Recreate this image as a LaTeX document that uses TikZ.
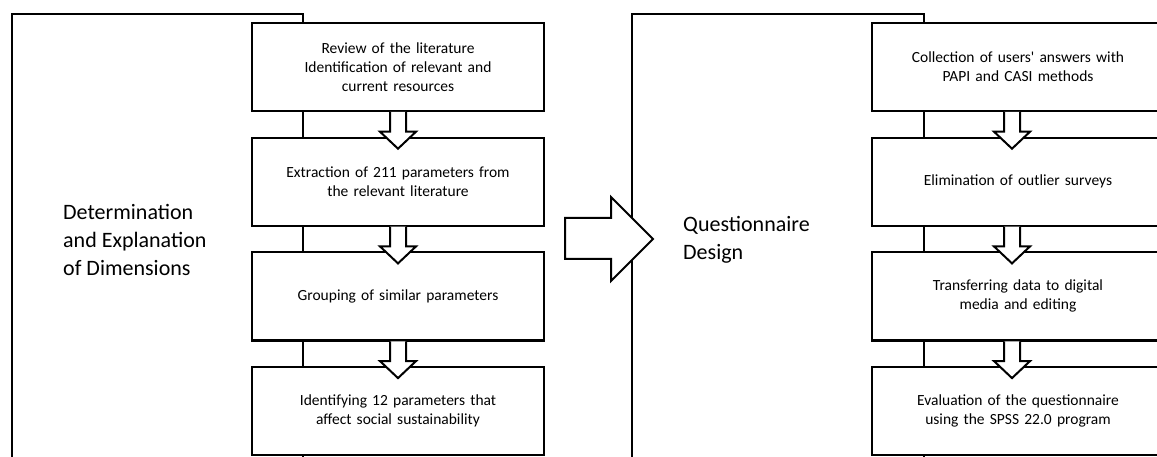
\documentclass[tikz,border=0pt]{standalone}
\usepackage{fontspec}
\setmainfont{Carlito}
\usetikzlibrary{positioning,calc}

\tikzset{
  stepbox/.style={draw,fill=white,line width=2.2pt,outer sep=0pt,inner sep=0pt,
    minimum width=292pt,minimum height=88pt,text width=280pt,align=center,
    font=\fontsize{15.5}{19}\selectfont},
  framebox/.style={draw,line width=1.8pt,outer sep=0pt,anchor=north west},
  bigtext/.style={align=left,anchor=west,inner sep=0pt,font=\fontsize{22}{28}\selectfont},
  hollow/.style={draw,fill=white,line width=2pt,line join=miter},
}

% hollow arrow from one step to the next (#3 = sideways offset)
\newcommand{\hollowdown}[3]{%
  \draw[hollow] ($(#1.south)+(#3-8,1)$) -- ($(#2.north)+(#3-8,-6)$) -- ++(-10,0)
    -- ($(#2.north)+(#3,11)$) -- ($(#2.north)+(#3+18,-6)$) -- ++(-10,0)
    -- ($(#1.south)+(#3+8,1)$);}

\begin{document}
\begin{tikzpicture}[x=1pt,y=-1pt]
\useasboundingbox (0,0) rectangle (1157,457);
\clip (0,0) rectangle (1157,457);

% outer frames
\node[framebox,minimum width=291pt,minimum height=480pt] (lframe) at (12,14) {};
\node[framebox,minimum width=292pt,minimum height=480pt] (rframe) at (632,14) {};

\node[bigtext] (ltitle) at (63,240) {Determination\\and Explanation\\of Dimensions};
\node[bigtext] (rtitle) at (683,240) {Questionnaire\\Design};

% left column
\node[stepbox] (l1) at (398,67) {Review of the literature\\Identification of relevant and\\current resources};
\node[stepbox,below=26.7pt of l1] (l2) {Extraction of 211 parameters from\\the relevant literature};
\node[stepbox,below=26.7pt of l2] (l3) {Grouping of similar parameters};
\node[stepbox,below=26.7pt of l3] (l4) {Identifying 12 parameters that\\affect social sustainability};

% right column
\node[stepbox] (r1) at (1018,67) {Collection of users\textquotesingle\ answers with\\PAPI and CASI methods};
\node[stepbox,below=26.7pt of r1] (r2) {Elimination of outlier surveys};
\node[stepbox,below=26.7pt of r2] (r3) {Transferring data to digital\\media and editing};
\node[stepbox,below=26.7pt of r3] (r4) {Evaluation of the questionnaire\\using the SPSS 22.0 program};

\foreach \from/\to in {l1/l2,l2/l3,l3/l4}
  \hollowdown{\from}{\to}{0};
\foreach \from/\to in {r1/r2,r2/r3,r3/r4}
  \hollowdown{\from}{\to}{-6};

% big arrow between the two stages
\draw[hollow] (565,218) -- (611,218) -- (611,197) -- (653,239) -- (611,281)
  -- (611,259) -- (565,259) -- cycle;
\end{tikzpicture}
\end{document}
